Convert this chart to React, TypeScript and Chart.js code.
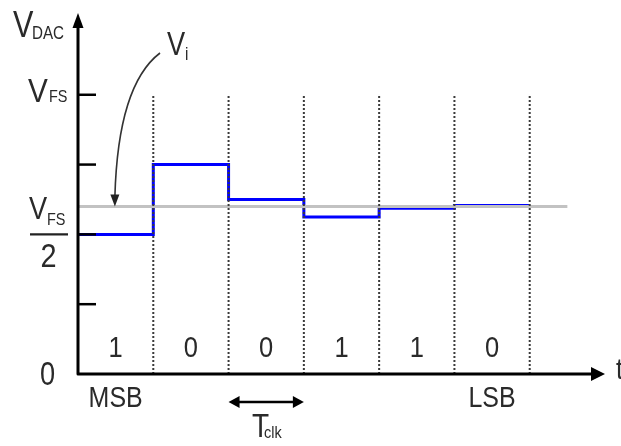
import React, { useEffect, useRef } from "react";
import { Chart, registerables } from "chart.js";

Chart.register(...registerables);

// ---- data ----
const STEP_X = [0, 1, 2, 3, 4, 5, 6];
const DAC_LEVELS = [0.5, 0.75, 0.625, 0.5625, 0.594, 0.603, 0.603];
const VI_X = [0, 6.5];
const VI_LEVEL = 0.6;
const CLOCK_EDGES = [1, 2, 3, 4, 5, 6];
const BITS = ["1", "0", "0", "1", "1", "0"];
const Y_TICKS = [0.25, 0.5, 0.75, 1];
const X_MAX = 7;
const Y_MAX = 1.3;

const FONT = '"Liberation Sans", Arial, sans-serif';
const TEXT = "#2a2a2a";

function drawText(
  ctx: CanvasRenderingContext2D,
  text: string,
  x: number,
  y: number,
  size: number,
  align: CanvasTextAlign = "left",
  sx = 0.85
) {
  ctx.save();
  ctx.font = `${size}px ${FONT}`;
  ctx.fillStyle = TEXT;
  ctx.textBaseline = "alphabetic";
  ctx.textAlign = align;
  ctx.translate(x, y);
  ctx.scale(sx, 1);
  ctx.fillText(text, 0, 0);
  ctx.restore();
}

function head(
  ctx: CanvasRenderingContext2D,
  tx: number,
  ty: number,
  dx: number,
  dy: number,
  len: number,
  half: number
) {
  const px = -dy,
    py = dx;
  ctx.beginPath();
  ctx.moveTo(tx, ty);
  ctx.lineTo(tx - dx * len + px * half, ty - dy * len + py * half);
  ctx.lineTo(tx - dx * len - px * half, ty - dy * len - py * half);
  ctx.closePath();
  ctx.fill();
}

const decorPlugin = {
  id: "decor",
  afterDatasetsDraw(chart: any) {
    const ctx: CanvasRenderingContext2D = chart.ctx;
    const xs = chart.scales.x;
    const ys = chart.scales.y;
    const x0 = xs.getPixelForValue(0);
    const y0 = ys.getPixelForValue(0);
    const yTop = ys.getPixelForValue(Y_MAX) + 2;
    const xEnd = xs.getPixelForValue(X_MAX);

    ctx.save();
    ctx.strokeStyle = "#000";
    ctx.fillStyle = "#000";
    ctx.lineWidth = 3;
    ctx.lineJoin = "round";
    ctx.lineCap = "butt";
    // axes
    ctx.beginPath();
    ctx.moveTo(x0, yTop + 12);
    ctx.lineTo(x0, y0);
    ctx.lineTo(xEnd - 12, y0);
    ctx.stroke();
    head(ctx, x0, yTop, 0, -1, 15, 5.5);
    head(ctx, xEnd, y0, 1, 0, 14, 7);

    // ticks
    ctx.lineWidth = 2.5;
    Y_TICKS.forEach((t) => {
      const y = ys.getPixelForValue(t);
      ctx.beginPath();
      ctx.moveTo(x0, y);
      ctx.lineTo(x0 + 18, y);
      ctx.stroke();
    });

    // Tclk arrow
    const ta = xs.getPixelForValue(2);
    const tb = xs.getPixelForValue(3);
    const ty = y0 + 28;
    ctx.beginPath();
    ctx.moveTo(ta + 8, ty);
    ctx.lineTo(tb - 8, ty);
    ctx.stroke();
    head(ctx, ta, ty, -1, 0, 11, 6);
    head(ctx, tb, ty, 1, 0, 11, 6);

    // Vi curved arrow
    const tipX = xs.getPixelForValue(0.49);
    const tipY = ys.getPixelForValue(VI_LEVEL);
    ctx.strokeStyle = "#333";
    ctx.fillStyle = "#222";
    ctx.lineWidth = 1.6;
    ctx.beginPath();
    ctx.moveTo(160, 53);
    ctx.quadraticCurveTo(118, 85, tipX, tipY - 10);
    ctx.stroke();
    head(ctx, tipX, tipY, 0, 1, 12, 4.5);

    // fraction bar
    const yHalf = ys.getPixelForValue(0.5);
    ctx.strokeStyle = "#222";
    ctx.lineWidth = 2.2;
    ctx.beginPath();
    ctx.moveTo(30, yHalf);
    ctx.lineTo(68, yHalf);
    ctx.stroke();
    ctx.restore();

    // texts
    drawText(ctx, "V", 13, 37, 36, "left", 0.85);
    drawText(ctx, "DAC", 32, 39, 19, "left", 0.8);

    const yFs = ys.getPixelForValue(1);
    drawText(ctx, "V", 28, yFs + 7, 33, "left", 0.9);
    drawText(ctx, "FS", 49, yFs + 7, 17, "left", 0.85);

    drawText(ctx, "V", 29, yHalf - 15, 32, "left", 0.85);
    drawText(ctx, "FS", 47, yHalf - 9, 17, "left", 0.85);
    drawText(ctx, "2", 48.5, yHalf + 33, 34, "center", 0.85);

    drawText(ctx, "0", 47.5, y0 + 11, 34, "center", 0.8);

    BITS.forEach((b, i) => {
      drawText(ctx, b, xs.getPixelForValue(i + 0.5), y0 - 17, 30, "center", 0.85);
    });

    drawText(ctx, "MSB", xs.getPixelForValue(0.5), y0 + 33, 29, "center", 0.86);
    drawText(ctx, "LSB", xs.getPixelForValue(5.5), y0 + 33, 29, "center", 0.86);

    drawText(ctx, "T", 252, 437, 33, "left", 0.85);
    drawText(ctx, "clk", 264, 438, 17, "left", 0.85);

    drawText(ctx, "V", 167, 55, 34, "left", 0.8);
    drawText(ctx, "i", 185, 60, 18, "left", 0.85);

    drawText(ctx, "t", 616, y0 + 5, 30, "left", 0.85);
  },
};

export default function App() {
  const ref = useRef<HTMLCanvasElement>(null);
  useEffect(() => {
    if (!ref.current) return;
    const dashed: any[] = [];
    CLOCK_EDGES.forEach((k) => {
      dashed.push({ x: k, y: 0 }, { x: k, y: 1 }, { x: k, y: null });
    });
    const chart = new Chart(ref.current, {
      type: "line",
      data: {
        datasets: [
          {
            label: "clock",
            data: dashed,
            borderColor: "#3a3a3a",
            borderWidth: 2,
            borderDash: [2, 2],
            pointRadius: 0,
            spanGaps: false,
          },
          {
            label: "Vi",
            data: VI_X.map((x) => ({ x, y: VI_LEVEL })),
            borderColor: "#c2c2c2",
            borderWidth: 3,
            pointRadius: 0,
          },
          {
            label: "VDAC",
            data: STEP_X.map((x, i) => ({ x, y: DAC_LEVELS[i] })),
            borderColor: "#0000ff",
            borderWidth: 3,
            pointRadius: 0,
            stepped: true,
          },
        ],
      },
      options: {
        animation: false,
        responsive: false,
        devicePixelRatio: 1,
        layout: { padding: { left: 78, right: 16, top: 11, bottom: 72 } },
        plugins: { legend: { display: false }, tooltip: { enabled: false } },
        scales: {
          x: { type: "linear", min: 0, max: X_MAX, display: false },
          y: { type: "linear", min: 0, max: Y_MAX, display: false },
        },
      },
      plugins: [decorPlugin],
    });
    return () => chart.destroy();
  }, []);
  return (
    <div style={{ position: "fixed", left: 0, top: 0, width: 621, height: 446, background: "#fff" }}>
      <canvas ref={ref} width={621} height={446} />
    </div>
  );
}
